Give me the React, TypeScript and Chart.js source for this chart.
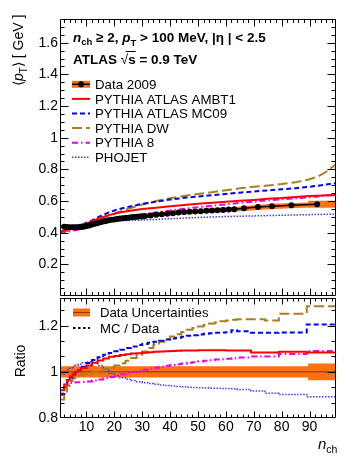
import React, { useEffect, useRef } from "react";
import { Chart, registerables } from "chart.js";
Chart.register(...registerables);

const FONT = "'Liberation Sans', Arial, Helvetica, sans-serif";

// ---------- top panel: data ----------
const dataN = [2, 3, 4, 5, 6, 7, 8, 9, 10, 11, 12, 13, 14, 15, 16, 17, 18, 19, 20, 21, 22, 23, 24, 25, 26, 27, 28, 29, 30,
  31, 33, 35, 37, 39, 41, 43, 45, 47, 49, 51, 53, 55, 57, 59, 61, 63, 66.5, 71.5, 76.5, 83.5, 92.7];
const dataPT = [0.438, 0.436, 0.435, 0.434, 0.434, 0.434, 0.436, 0.438, 0.442, 0.446, 0.451, 0.456, 0.461, 0.466, 0.470,
  0.474, 0.478, 0.481, 0.484, 0.487, 0.489, 0.491, 0.493, 0.495, 0.497, 0.499, 0.500, 0.502, 0.503,
  0.505, 0.509, 0.513, 0.517, 0.520, 0.523, 0.527, 0.530, 0.532, 0.534, 0.536, 0.538, 0.540, 0.542, 0.544, 0.546, 0.548,
  0.554, 0.562, 0.567, 0.573, 0.580];

const bandN = [1.5, 10, 20, 30, 40, 50, 60, 64, 69, 74, 79, 89.5, 89.5, 99.5];
const bandLo = [0.427, 0.432, 0.473, 0.491, 0.508, 0.521, 0.530, 0.534, 0.540, 0.547, 0.552, 0.559, 0.558, 0.558];
const bandHi = [0.447, 0.454, 0.497, 0.515, 0.536, 0.549, 0.560, 0.564, 0.572, 0.579, 0.584, 0.591, 0.602, 0.602];

// ---------- top panel: MC ----------
const mcN = [0.5, 3, 6, 9, 12, 15, 18, 21, 25, 30, 35, 40, 45, 50, 55, 60, 65, 70, 75, 80, 85, 90, 93, 96, 99.5];
const ambt1 = [0.404, 0.418, 0.433, 0.451, 0.472, 0.494, 0.511, 0.524, 0.537, 0.549, 0.558, 0.567, 0.575, 0.583, 0.589,
  0.595, 0.601, 0.607, 0.614, 0.619, 0.626, 0.631, 0.634, 0.636, 0.638];
const mc09 = [0.404, 0.420, 0.437, 0.456, 0.478, 0.505, 0.528, 0.546, 0.563, 0.582, 0.596, 0.609, 0.620, 0.629, 0.637,
  0.645, 0.653, 0.660, 0.667, 0.674, 0.681, 0.690, 0.697, 0.705, 0.713];
const dw = [0.402, 0.410, 0.424, 0.440, 0.460, 0.482, 0.506, 0.526, 0.551, 0.578, 0.600, 0.617, 0.632, 0.645, 0.656,
  0.668, 0.680, 0.690, 0.698, 0.707, 0.718, 0.738, 0.755, 0.785, 0.832];
const py8 = [0.398, 0.405, 0.416, 0.428, 0.443, 0.460, 0.475, 0.488, 0.502, 0.516, 0.528, 0.540, 0.551, 0.561, 0.570,
  0.579, 0.588, 0.597, 0.604, 0.611, 0.617, 0.624, 0.629, 0.634, 0.638];
const phojet = [0.437, 0.440, 0.447, 0.456, 0.465, 0.472, 0.474, 0.475, 0.477, 0.480, 0.484, 0.488, 0.492, 0.496, 0.499,
  0.502, 0.504, 0.506, 0.508, 0.510, 0.512, 0.514, 0.515, 0.516, 0.517];

// ---------- ratio panel ----------
const ratioEdges = [0.5, 2, 3, 4, 5, 6, 7, 8, 10, 12, 14, 16, 18, 20, 22, 24, 26, 28, 30, 32, 34, 36, 38, 40, 42, 44, 46,
  48, 50, 52, 54, 56, 58, 60, 62, 64, 69, 74, 79, 89, 99.5];
const rAMBT1 = [0.92, 0.945, 0.965, 0.98, 0.992, 1.0, 1.007, 1.017, 1.028, 1.039, 1.049, 1.058, 1.065, 1.069, 1.073, 1.076,
  1.079, 1.081, 1.083, 1.085, 1.087, 1.088, 1.089, 1.090, 1.091, 1.092, 1.093, 1.093, 1.094, 1.094, 1.094, 1.094, 1.094,
  1.093, 1.093, 1.093, 1.084, 1.084, 1.087, 1.084];
const rMC09 = [0.905, 0.935, 0.958, 0.975, 0.988, 0.998, 1.007, 1.022, 1.038, 1.051, 1.063, 1.074, 1.082, 1.089, 1.096,
  1.103, 1.110, 1.116, 1.121, 1.126, 1.130, 1.135, 1.140, 1.144, 1.148, 1.152, 1.156, 1.159, 1.162, 1.165, 1.167, 1.169,
  1.170, 1.172, 1.180, 1.176, 1.169, 1.169, 1.170, 1.205];
const rDW = [0.88, 0.91, 0.94, 0.96, 0.972, 0.98, 0.986, 0.99, 0.993, 0.998, 1.005, 1.012, 1.019, 1.027, 1.037, 1.048,
  1.06, 1.074, 1.088, 1.103, 1.117, 1.13, 1.142, 1.153, 1.163, 1.173, 1.182, 1.19, 1.197, 1.203, 1.209, 1.214, 1.219,
  1.223, 1.226, 1.228, 1.228, 1.222, 1.252, 1.284];
const rPY8 = [0.90, 0.93, 0.946, 0.952, 0.954, 0.955, 0.955, 0.956, 0.958, 0.962, 0.967, 0.972, 0.978, 0.984, 0.99, 0.995,
  0.999, 1.004, 1.009, 1.014, 1.018, 1.022, 1.026, 1.030, 1.033, 1.036, 1.039, 1.042, 1.045, 1.048, 1.050, 1.053, 1.055,
  1.057, 1.059, 1.062, 1.066, 1.067, 1.077, 1.090];
const rPHOJET = [0.99, 1.0, 1.01, 1.018, 1.024, 1.029, 1.033, 1.039, 1.043, 1.04, 1.028, 1.01, 0.993, 0.982, 0.974, 0.968,
  0.962, 0.957, 0.953, 0.949, 0.946, 0.943, 0.941, 0.939, 0.937, 0.935, 0.933, 0.932, 0.931, 0.930, 0.929, 0.929, 0.928,
  0.928, 0.927, 0.924, 0.917, 0.907, 0.902, 0.892];
const rBandN = [0.5, 89.5, 89.5, 99.5];
const rBandLo = [0.976, 0.976, 0.964, 0.964];
const rBandHi = [1.024, 1.024, 1.036, 1.036];
const rUnityN = [0.5, 99.5];
const rUnity = [1, 1];

// ---------- ticks ----------
const yTicksTop = [0.2, 0.4, 0.6, 0.8, 1, 1.2, 1.4, 1.6];
const yTicksRatio = [0.8, 1, 1.2];
const xTicks = [10, 20, 30, 40, 50, 60, 70, 80, 90];

// ---------- styles ----------
const C_RED = "#ff0000";
const C_BLUE = "#0000ff";
const C_DW = "#ad7d1f";
const C_PY8 = "#ee00ee";
const C_PHO = "#3d3dff";
const C_BAND = "#ff7010";
const C_BANDLINE = "#8c3500";

const STY = {
  ambt1: { color: C_RED, width: 2, dash: [] as number[] },
  mc09: { color: C_BLUE, width: 2, dash: [5, 3] },
  dw: { color: C_DW, width: 2, dash: [10, 4] },
  py8: { color: C_PY8, width: 2, dash: [6, 3, 1.5, 3] },
  pho: { color: C_PHO, width: 1.5, dash: [1.5, 1.5] },
};

const pts = (xs: number[], ys: number[]) => xs.map((x, i) => ({ x, y: ys[i] }));
const steps = (edges: number[], vals: number[]) => [
  ...vals.map((v, i) => ({ x: edges[i], y: v })),
  { x: edges[edges.length - 1], y: vals[vals.length - 1] },
];
const lineDs = (data: any[], s: { color: string; width: number; dash: number[] }, order: number, stepped = false) => ({
  data,
  borderColor: s.color,
  borderWidth: s.width,
  borderDash: s.dash,
  pointRadius: 0,
  fill: false,
  tension: 0,
  stepped: stepped ? "before" : false,
  order,
});

type Run = { t: string; f: string; dy?: number };
function drawRuns(ctx: CanvasRenderingContext2D, x: number, y: number, runs: Run[]) {
  let cx = x;
  const pos: number[] = [];
  for (const r of runs) {
    ctx.font = r.f;
    pos.push(cx);
    ctx.fillText(r.t, cx, y + (r.dy || 0));
    cx += ctx.measureText(r.t).width;
  }
  pos.push(cx);
  return pos;
}

function drawFrame(chart: any, o: { xMaj: number; xMin: number; yMaj: number; yMin: number; yStep: number; yMajEvery: number }) {
  const { ctx, chartArea: a } = chart;
  const xs = chart.scales.x;
  const ys = chart.scales.y;
  const L = a.left + 0.5, R = a.right - 0.5, T = a.top + 0.5, B = a.bottom - 0.5;
  ctx.save();
  ctx.setLineDash([]);
  ctx.strokeStyle = "#000";
  ctx.lineWidth = 1;
  ctx.beginPath();
  ctx.rect(L, T, R - L, B - T);
  for (let v = 2; v < 99.5; v += 2) {
    const len = v % 10 === 0 ? o.xMaj : o.xMin;
    const px = Math.round(xs.getPixelForValue(v)) + 0.5;
    ctx.moveTo(px, B);
    ctx.lineTo(px, B - len);
    ctx.moveTo(px, T);
    ctx.lineTo(px, T + len);
  }
  const ymin = ys.min, ymax = ys.max;
  for (let k = 1; ; k++) {
    const v = ymin + k * o.yStep;
    if (v > ymax - 1e-6) break;
    const len = k % o.yMajEvery === 0 ? o.yMaj : o.yMin;
    const py = Math.round(ys.getPixelForValue(v)) + 0.5;
    ctx.moveTo(L, py);
    ctx.lineTo(L + len, py);
    ctx.moveTo(R, py);
    ctx.lineTo(R - len, py);
  }
  ctx.stroke();
  ctx.restore();
}

function legendLine(ctx: CanvasRenderingContext2D, x0: number, x1: number, y: number, s: { color: string; width: number; dash: number[] }) {
  ctx.save();
  ctx.strokeStyle = s.color;
  ctx.lineWidth = s.width;
  ctx.setLineDash(s.dash);
  ctx.beginPath();
  ctx.moveTo(x0, y);
  ctx.lineTo(x1, y);
  ctx.stroke();
  ctx.restore();
}

const topPlugin = {
  id: "topDeco",
  afterDraw(chart: any) {
    drawFrame(chart, { xMaj: 7, xMin: 3.5, yMaj: 8, yMin: 4, yStep: 0.05, yMajEvery: 4 });
    const ctx: CanvasRenderingContext2D = chart.ctx;
    ctx.save();
    ctx.fillStyle = "#000";
    ctx.textBaseline = "alphabetic";
    ctx.textAlign = "left";
    const B = `bold 13.5px ${FONT}`;
    const BI = `italic bold 13.5px ${FONT}`;
    const BS = `bold 9.5px ${FONT}`;
    drawRuns(ctx, 73, 42, [
      { t: "n", f: BI },
      { t: "ch", f: BS, dy: 3 },
      { t: " \u2265 2, ", f: B },
      { t: "p", f: BI },
      { t: "T", f: BS, dy: 4 },
      { t: " > 100 MeV, |", f: B },
      { t: "\u03b7", f: B },
      { t: " | < 2.5", f: B },
    ]);
    const p = drawRuns(ctx, 73, 63.5, [
      { t: "ATLAS ", f: B },
      { t: "\u221a", f: `13.5px ${FONT}` },
      { t: "s", f: B },
      { t: " = 0.9 TeV", f: B },
    ]);
    ctx.strokeStyle = "#000";
    ctx.lineWidth = 1;
    ctx.beginPath();
    ctx.moveTo(p[1] + 5, 51.5);
    ctx.lineTo(p[3], 51.5);
    ctx.stroke();

    // legend
    const labels = ["Data 2009", "PYTHIA ATLAS AMBT1", "PYTHIA ATLAS MC09", "PYTHIA DW", "PYTHIA 8", "PHOJET"];
    const styles = [null, STY.ambt1, STY.mc09, STY.dw, STY.py8, STY.pho];
    ctx.font = `13.3px ${FONT}`;
    labels.forEach((lab, i) => {
      const base = 89 + i * 14.6;
      const cy = base - 4.7;
      ctx.fillStyle = "#000";
      ctx.fillText(lab, 95, base);
      const s = styles[i];
      if (!s) {
        ctx.fillStyle = C_BAND;
        ctx.fillRect(72, cy - 3.5, 18, 7);
        legendLine(ctx, 72, 90, cy, { color: "#000", width: 1.5, dash: [] });
        ctx.fillStyle = "#000";
        ctx.beginPath();
        ctx.arc(81, cy, 3, 0, Math.PI * 2);
        ctx.fill();
      } else {
        legendLine(ctx, 72, 90, cy, s);
      }
    });

    // y title
    ctx.save();
    ctx.translate(23, 86);
    ctx.rotate(-Math.PI / 2);
    ctx.fillStyle = "#000";
    drawRuns(ctx, 0, 0, [
      { t: "\u27e8", f: `14px ${FONT}` },
      { t: "p", f: `italic 14px ${FONT}` },
      { t: "T", f: `10px ${FONT}`, dy: 4 },
      { t: "\u27e9 [ GeV ]", f: `14px ${FONT}` },
    ]);
    ctx.restore();
    ctx.restore();
  },
};

const BOT_TOP = 298;

const botPlugin = {
  id: "botDeco",
  afterDraw(chart: any) {
    drawFrame(chart, { xMaj: 6, xMin: 3, yMaj: 8, yMin: 4, yStep: 0.2 / 3, yMajEvery: 3 });
    const ctx: CanvasRenderingContext2D = chart.ctx;
    ctx.save();
    ctx.translate(0, -BOT_TOP);
    ctx.fillStyle = "#000";
    ctx.textAlign = "left";
    ctx.textBaseline = "alphabetic";
    // legend
    ctx.fillStyle = C_BAND;
    ctx.fillRect(73, 308.5, 17, 8);
    legendLine(ctx, 73, 90, 312.5, { color: C_BANDLINE, width: 1, dash: [] });
    legendLine(ctx, 73, 90, 328, { color: "#000", width: 2, dash: [2.5, 2.5] });
    ctx.fillStyle = "#000";
    ctx.font = `13.2px ${FONT}`;
    ctx.fillText("Data Uncertainties", 100, 317);
    ctx.fillText("MC / Data", 100, 332.5);
    // x title
    drawRuns(ctx, 318, 449, [
      { t: "n", f: `italic 15px ${FONT}` },
      { t: "ch", f: `10.5px ${FONT}`, dy: 4 },
    ]);
    // y title
    ctx.save();
    ctx.font = `14px ${FONT}`;
    const w = ctx.measureText("Ratio").width;
    ctx.translate(25, 361 + w / 2);
    ctx.rotate(-Math.PI / 2);
    ctx.fillText("Ratio", 0, 0);
    ctx.restore();
    ctx.restore();
  },
};

const tickFont = { family: FONT, size: 14 };
const fmt = (v: any) => String(+Number(v).toFixed(2));
const noPad = (s: any) => {
  s.paddingTop = 0;
  s.paddingBottom = 0;
  s.paddingLeft = 0;
  s.paddingRight = 0;
};

export default function App() {
  const topRef = useRef<HTMLCanvasElement>(null);
  const botRef = useRef<HTMLCanvasElement>(null);

  useEffect(() => {
    const top = new Chart(topRef.current as HTMLCanvasElement, {
      type: "line",
      data: {
        datasets: [
          {
            data: pts(dataN, dataPT),
            borderColor: "#000",
            borderWidth: 1.5,
            pointRadius: 3,
            pointBackgroundColor: "#000",
            pointBorderWidth: 0,
            fill: false,
            order: 0,
          } as any,
          lineDs(pts(mcN, ambt1), STY.ambt1, 1),
          lineDs(pts(mcN, mc09), STY.mc09, 2),
          lineDs(pts(mcN, dw), STY.dw, 3),
          lineDs(pts(mcN, py8), STY.py8, 4),
          lineDs(pts(mcN, phojet), STY.pho, 5),
          {
            data: pts(bandN, bandHi),
            borderWidth: 0,
            borderColor: "rgba(0,0,0,0)",
            backgroundColor: C_BAND,
            pointRadius: 0,
            fill: "+1",
            order: 10,
          } as any,
          {
            data: pts(bandN, bandLo),
            borderWidth: 0,
            borderColor: "rgba(0,0,0,0)",
            pointRadius: 0,
            fill: false,
            order: 11,
          } as any,
        ],
      },
      options: {
        animation: false,
        responsive: false,
        maintainAspectRatio: false,
        devicePixelRatio: 1,
        events: [],
        layout: { padding: { left: 0, right: 21, top: 19, bottom: 1 } },
        plugins: { legend: { display: false }, tooltip: { enabled: false } },
        scales: {
          x: { type: "linear", min: 0.5, max: 99.5, display: false },
          y: {
            type: "linear",
            min: 0,
            max: 1.75,
            afterFit: (s: any) => {
              s.width = 60;
              noPad(s);
            },
            afterBuildTicks: (s: any) => {
              s.ticks = yTicksTop.map((v) => ({ value: v }));
            },
            grid: { display: false, drawTicks: false },
            border: { display: false },
            ticks: { font: tickFont, color: "#000", padding: 2, callback: fmt },
          },
        },
      } as any,
      plugins: [topPlugin],
    });

    const bot = new Chart(botRef.current as HTMLCanvasElement, {
      type: "line",
      data: {
        datasets: [
          lineDs(steps(ratioEdges, rAMBT1), STY.ambt1, 1, true),
          lineDs(steps(ratioEdges, rMC09), STY.mc09, 2, true),
          lineDs(steps(ratioEdges, rDW), STY.dw, 3, true),
          lineDs(steps(ratioEdges, rPY8), STY.py8, 4, true),
          lineDs(steps(ratioEdges, rPHOJET), STY.pho, 5, true),
          lineDs(pts(rUnityN, rUnity), { color: C_BANDLINE, width: 1, dash: [] }, 8),
          {
            data: pts(rBandN, rBandHi),
            borderWidth: 0,
            borderColor: "rgba(0,0,0,0)",
            backgroundColor: C_BAND,
            pointRadius: 0,
            fill: "+1",
            order: 10,
          } as any,
          {
            data: pts(rBandN, rBandLo),
            borderWidth: 0,
            borderColor: "rgba(0,0,0,0)",
            pointRadius: 0,
            fill: false,
            order: 11,
          } as any,
        ],
      },
      options: {
        animation: false,
        responsive: false,
        maintainAspectRatio: false,
        devicePixelRatio: 1,
        events: [],
        layout: { padding: { left: 0, right: 21, top: 0, bottom: 0 } },
        plugins: { legend: { display: false }, tooltip: { enabled: false } },
        scales: {
          x: {
            type: "linear",
            min: 0.5,
            max: 99.5,
            afterFit: (s: any) => {
              s.height = 44;
              noPad(s);
            },
            afterBuildTicks: (s: any) => {
              s.ticks = xTicks.map((v) => ({ value: v }));
            },
            grid: { display: false, drawTicks: false },
            border: { display: false },
            ticks: { font: tickFont, color: "#000", padding: 1, maxRotation: 0, autoSkip: false, callback: fmt },
          },
          y: {
            type: "linear",
            min: 0.8,
            max: 1.32,
            afterFit: (s: any) => {
              s.width = 60;
              noPad(s);
            },
            afterBuildTicks: (s: any) => {
              s.ticks = yTicksRatio.map((v) => ({ value: v }));
            },
            grid: { display: false, drawTicks: false },
            border: { display: false },
            ticks: { font: tickFont, color: "#000", padding: 2, callback: fmt },
          },
        },
      } as any,
      plugins: [botPlugin],
    });

    return () => {
      top.destroy();
      bot.destroy();
    };
  }, []);

  return (
    <div style={{ position: "fixed", left: 0, top: 0, width: 357, height: 462, background: "#fff" }}>
      <canvas
        ref={topRef}
        width={357}
        height={300}
        style={{ position: "absolute", left: 0, top: 0, width: 357, height: 300 }}
      />
      <canvas
        ref={botRef}
        width={357}
        height={164}
        style={{ position: "absolute", left: 0, top: BOT_TOP, width: 357, height: 164 }}
      />
    </div>
  );
}
